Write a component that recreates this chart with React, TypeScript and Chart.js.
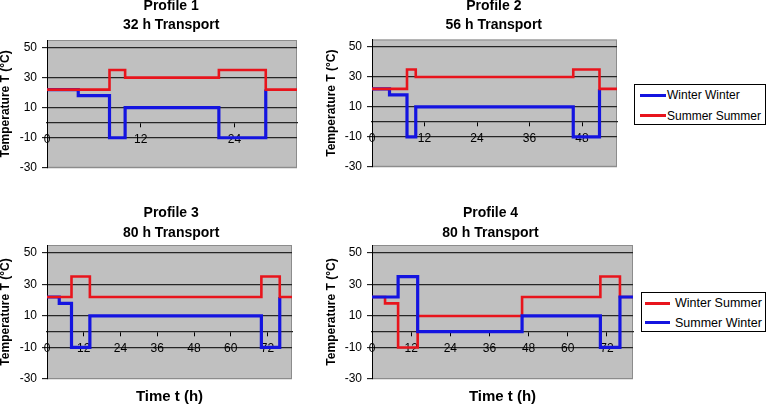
import React, { useEffect, useRef } from 'react';
import { Chart, registerables } from 'chart.js';

Chart.register(...registerables);

// ---------- data ----------
const Y_TICKS = [-30, -10, 10, 30, 50];
const Y_MIN = -30;
const Y_MAX = 55;

const P1_X_MAX = 32;
const P1_X_TICKS = [0, 12, 24];
const P1_SUMMER_SUMMER_T = [0, 8, 10, 22, 28, 32];
const P1_SUMMER_SUMMER_V = [22, 35, 30, 35, 22, 22];
const P1_WINTER_WINTER_T = [0, 4, 8, 10, 22, 28];
const P1_WINTER_WINTER_V = [22, 18, -10, 10, -10, 22];

const P2_X_MAX = 56;
const P2_X_TICKS = [0, 12, 24, 36, 48];
const P2_SUMMER_SUMMER_T = [0, 8, 10, 46, 52, 56];
const P2_SUMMER_SUMMER_V = [22, 35, 30, 35, 22, 22];
const P2_WINTER_WINTER_T = [0, 4, 8, 10, 46, 52];
const P2_WINTER_WINTER_V = [22, 18, -10, 10, -10, 22];

const P3_X_MAX = 80;
const P3_X_TICKS = [0, 12, 24, 36, 48, 60, 72];
const P3_SUMMER_SUMMER_T = [0, 8, 14, 70, 76, 80];
const P3_SUMMER_SUMMER_V = [22, 35, 22, 35, 22, 22];
const P3_WINTER_WINTER_T = [0, 4, 8, 14, 70, 76];
const P3_WINTER_WINTER_V = [22, 18, -10, 10, -10, 22];

const P4_X_MAX = 80;
const P4_X_TICKS = [0, 12, 24, 36, 48, 60, 72];
const P4_WINTER_SUMMER_T = [0, 4, 8, 14, 46, 70, 76, 80];
const P4_WINTER_SUMMER_V = [22, 18, -10, 10, 22, 35, 22, 22];
const P4_SUMMER_WINTER_T = [0, 8, 14, 46, 70, 76, 80];
const P4_SUMMER_WINTER_V = [22, 35, 0, 10, -10, 22, 22];

const LEGEND_TOP = ['Winter Winter', 'Summer Summer'];
const LEGEND_BOTTOM = ['Winter Summer', 'Summer Winter'];

// ---------- styles ----------
const RED = '#e8141c';
const BLUE = '#1414e0';
const FONT = "'Liberation Sans', Arial, sans-serif";
const TITLE_LH = 19.5;

type Series = { label: string; t: number[]; v: number[]; color: string; width: number };
type Box = {
  left: number; top: number;
  plotLeft: number; plotRight: number; plotTop: number; plotBottom: number;
  titleCenter: number; titleMid: number; xTitleMid?: number;
};
type PanelCfg = {
  title: string[]; xMax: number; xTicks: number[]; series: Series[]; xTitle?: string; box: Box;
};

const PANELS: PanelCfg[] = [
  {
    title: ['Profile 1', '32 h Transport'], xMax: P1_X_MAX, xTicks: P1_X_TICKS,
    series: [
      { label: LEGEND_TOP[1], t: P1_SUMMER_SUMMER_T, v: P1_SUMMER_SUMMER_V, color: RED, width: 2.6 },
      { label: LEGEND_TOP[0], t: P1_WINTER_WINTER_T, v: P1_WINTER_WINTER_V, color: BLUE, width: 3.2 },
    ],
    box: { left: 0, top: -4, plotLeft: 47, plotRight: 297, plotTop: 40, plotBottom: 172, titleCenter: 171.2, titleMid: 6 },
  },
  {
    title: ['Profile 2', '56 h Transport'], xMax: P2_X_MAX, xTicks: P2_X_TICKS,
    series: [
      { label: LEGEND_TOP[1], t: P2_SUMMER_SUMMER_T, v: P2_SUMMER_SUMMER_V, color: RED, width: 2.6 },
      { label: LEGEND_TOP[0], t: P2_WINTER_WINTER_T, v: P2_WINTER_WINTER_V, color: BLUE, width: 3.2 },
    ],
    box: { left: 326, top: -4, plotLeft: 372, plotRight: 617, plotTop: 39.5, plotBottom: 171, titleCenter: 493.8, titleMid: 6 },
  },
  {
    title: ['Profile 3', '80 h Transport'], xMax: P3_X_MAX, xTicks: P3_X_TICKS, xTitle: 'Time t (h)',
    series: [
      { label: LEGEND_TOP[1], t: P3_SUMMER_SUMMER_T, v: P3_SUMMER_SUMMER_V, color: RED, width: 2.6 },
      { label: LEGEND_TOP[0], t: P3_WINTER_WINTER_T, v: P3_WINTER_WINTER_V, color: BLUE, width: 3.2 },
    ],
    box: { left: 0, top: 203, plotLeft: 47, plotRight: 292, plotTop: 245, plotBottom: 379, titleCenter: 171.2, titleMid: 213.3, xTitleMid: 396.7 },
  },
  {
    title: ['Profile 4', '80 h Transport'], xMax: P4_X_MAX, xTicks: P4_X_TICKS, xTitle: 'Time t (h)',
    series: [
      { label: LEGEND_BOTTOM[1], t: P4_SUMMER_WINTER_T, v: P4_SUMMER_WINTER_V, color: BLUE, width: 3.2 },
      { label: LEGEND_BOTTOM[0], t: P4_WINTER_SUMMER_T, v: P4_WINTER_SUMMER_V, color: RED, width: 2.6 },
    ],
    box: { left: 326, top: 203, plotLeft: 372, plotRight: 633, plotTop: 245, plotBottom: 379, titleCenter: 490.5, titleMid: 213.3, xTitleMid: 396.7 },
  },
];

const plotBg = {
  id: 'plotBg',
  beforeDraw(chart: any) {
    const { ctx, chartArea: a } = chart;
    ctx.save();
    ctx.fillStyle = '#c0c0c0';
    ctx.fillRect(a.left, a.top, a.right - a.left, a.bottom - a.top);
    ctx.strokeStyle = '#8c8c8c';
    ctx.lineWidth = 1;
    ctx.strokeRect(a.left + 0.5, a.top + 0.5, a.right - a.left - 1, a.bottom - a.top - 1);
    ctx.restore();
  },
};

function computeLayout(cfg: PanelCfg) {
  const b = cfg.box;
  const titlePadTop = b.titleMid - TITLE_LH / 2 - b.top;
  const titlePadBottom = b.plotTop - b.top - titlePadTop - 2 * TITLE_LH;
  const yW = b.plotLeft - b.left;
  const span = 2 * (b.titleCenter - b.left);
  const W = Math.ceil(span) + 1;
  const padR = W - span;
  const rightW = span - (b.plotRight - b.left);
  let xtH = 0;
  let xtPadTop = 0;
  if (cfg.xTitle && b.xTitleMid !== undefined) {
    xtPadTop = b.xTitleMid - b.plotBottom - 9;
    xtH = 18 + xtPadTop + 2;
  }
  const inner = b.plotBottom - b.top + xtH;
  const H = Math.ceil(inner + 8);
  const padB = H - inner;
  return { titlePadTop, titlePadBottom, yW, W, H, padR, padB, rightW, xtH, xtPadTop };
}

function Panel({ cfg }: { cfg: PanelCfg }) {
  const ref = useRef<HTMLCanvasElement>(null);
  const L = computeLayout(cfg);
  useEffect(() => {
    if (!ref.current) return;
    const scales: any = {
      x: {
        type: 'linear', min: 0, max: cfg.xMax, position: { y: 0 },
        afterBuildTicks: (s: any) => { s.ticks = cfg.xTicks.map((v) => ({ value: v })); },
        ticks: { color: '#000', font: { size: 12, family: FONT }, padding: 6, autoSkip: false, maxRotation: 0 },
        grid: { display: true, drawOnChartArea: false, drawTicks: true, tickLength: 4, tickColor: '#000', tickWidth: 1 },
        border: { display: true, color: '#262626', width: 1.3 },
      },
      y: {
        type: 'linear', position: 'left', min: Y_MIN, max: Y_MAX,
        afterBuildTicks: (s: any) => { s.ticks = Y_TICKS.map((v) => ({ value: v })); },
        afterFit: (s: any) => { s.width = L.yW; },
        ticks: { color: '#000', font: { size: 12, family: FONT }, padding: 5 },
        grid: {
          color: (c: any) => (c.tick && c.tick.value === Y_MIN ? '#8c8c8c' : '#262626'),
          lineWidth: 1.3, tickLength: 5, tickColor: '#000', tickWidth: 1,
        },
        border: { display: true, color: '#000', width: 1 },
        title: {
          display: true, text: 'Temperature T (°C)', color: '#000', padding: 0,
          font: { size: 12, weight: 'bold', family: FONT, lineHeight: 1 },
        },
      },
      yr: {
        type: 'linear', position: 'right', display: true,
        ticks: { display: false }, grid: { display: false, drawTicks: false }, border: { display: false },
        afterFit: (s: any) => { s.width = L.rightW; },
      },
    };
    if (cfg.xTitle) {
      scales.xt = {
        type: 'linear', position: 'bottom', display: true,
        ticks: { display: false }, grid: { display: false, drawTicks: false }, border: { display: false },
        title: {
          display: true, text: cfg.xTitle, color: '#000',
          font: { size: 15, weight: 'bold', family: FONT, lineHeight: 1.2 },
          padding: { top: L.xtPadTop, bottom: 2 },
        },
        afterFit: (s: any) => { s.height = L.xtH; },
      };
    }
    const chart = new Chart(ref.current, {
      type: 'line',
      data: {
        datasets: cfg.series.map((s) => ({
          label: s.label,
          data: s.t.map((x, i) => ({ x, y: s.v[i] })),
          borderColor: s.color,
          backgroundColor: s.color,
          borderWidth: s.width,
          stepped: true,
          pointRadius: 0,
          fill: false,
          tension: 0,
          borderJoinStyle: 'miter',
          borderCapStyle: 'butt',
          xAxisID: 'x',
          yAxisID: 'y',
        })),
      },
      options: {
        responsive: false,
        animation: false,
        devicePixelRatio: 1,
        events: [],
        font: { family: FONT },
        layout: { padding: { left: 0, top: 0, right: L.padR, bottom: L.padB } },
        plugins: {
          legend: { display: false },
          tooltip: { enabled: false },
          title: {
            display: true, text: cfg.title, color: '#000', fullSize: true,
            font: { size: 14, weight: 'bold', family: FONT, lineHeight: TITLE_LH / 14 },
            padding: { top: L.titlePadTop, bottom: L.titlePadBottom },
          },
        },
        scales,
      } as any,
      plugins: [plotBg],
    } as any);
    return () => chart.destroy();
  }, []);
  return (
    <canvas
      ref={ref}
      width={L.W}
      height={L.H}
      style={{ position: 'absolute', left: cfg.box.left, top: cfg.box.top, width: L.W, height: L.H }}
    />
  );
}

type LegendCfg = {
  left: number; top: number; width: number; height: number; fontSize: number;
  lineLeft: number; lineWidth: number; textLeft: number;
  rows: { label: string; color: string; thick: number; mid: number }[];
};

const LEGENDS: LegendCfg[] = [
  {
    left: 634, top: 84, width: 132, height: 41, fontSize: 12,
    lineLeft: 6, lineWidth: 26, textLeft: 33,
    rows: [
      { label: LEGEND_TOP[0], color: BLUE, thick: 3, mid: 11 },
      { label: LEGEND_TOP[1], color: RED, thick: 2.5, mid: 31.7 },
    ],
  },
  {
    left: 641, top: 292, width: 125, height: 40, fontSize: 12.5,
    lineLeft: 4, lineWidth: 25, textLeft: 34,
    rows: [
      { label: LEGEND_BOTTOM[0], color: RED, thick: 2.5, mid: 11.3 },
      { label: LEGEND_BOTTOM[1], color: BLUE, thick: 3.5, mid: 30.7 },
    ],
  },
];

function Legend({ cfg }: { cfg: LegendCfg }) {
  return (
    <div
      style={{
        position: 'absolute', left: cfg.left, top: cfg.top, width: cfg.width, height: cfg.height,
        border: '1px solid #000', boxSizing: 'border-box', background: '#fff',
      }}
    >
      {cfg.rows.map((r, i) => (
        <React.Fragment key={i}>
          <div
            style={{
              position: 'absolute', left: cfg.lineLeft - 1, top: r.mid - 1 - r.thick / 2,
              width: cfg.lineWidth, height: r.thick, background: r.color,
            }}
          />
          <div
            style={{
              position: 'absolute', left: cfg.textLeft - 1, top: r.mid - 1 - 8, height: 16,
              lineHeight: '16px', fontSize: cfg.fontSize, fontFamily: FONT, color: '#000', whiteSpace: 'nowrap',
            }}
          >
            {r.label}
          </div>
        </React.Fragment>
      ))}
    </div>
  );
}

export default function App() {
  return (
    <div
      style={{
        position: 'fixed', left: 0, top: 0, width: 767, height: 405,
        background: '#fff', overflow: 'hidden',
      }}
    >
      {PANELS.map((p, i) => (
        <Panel key={i} cfg={p} />
      ))}
      {LEGENDS.map((l, i) => (
        <Legend key={i} cfg={l} />
      ))}
    </div>
  );
}
